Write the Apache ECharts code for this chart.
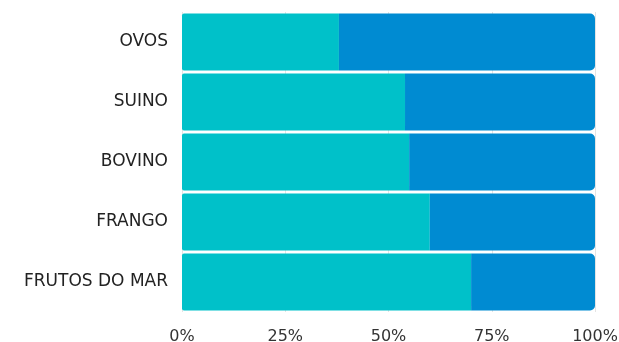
<!DOCTYPE html>
<html><head><meta charset="utf-8">
<script src="https://cdn.jsdelivr.net/npm/echarts@6/dist/echarts.min.js"></script>
<style>html,body{margin:0;padding:0;background:#fff}#c{width:619px;height:342px}</style>
</head><body><div id="c"></div>
<script>
const categories = ['FRUTOS DO MAR','FRANGO','BOVINO','SUINO','OVOS'];
const firstShare = [70, 60, 55, 54, 38];
const secondShare = [30, 40, 45, 46, 62];
const tickLabels = ['0%','25%','50%','75%','100%'];

const chart = echarts.init(document.getElementById('c'));
chart.setOption({
  animation:false,
  grid:{left:182,right:24,top:12,bottom:30,containLabel:false,outerBoundsMode:'none'},
  xAxis:{type:'value',min:0,max:100,interval:25,
    axisLine:{show:false},axisTick:{show:false},
    splitLine:{show:true,lineStyle:{color:'#e4e4e4',width:1}},
    axisLabel:{formatter:v=>tickLabels[v/25],color:'#333',fontSize:16,fontFamily:'DejaVu Sans, sans-serif',margin:17}},
  yAxis:{type:'category',data:categories,
    axisLine:{show:false},axisTick:{show:false},
    axisLabel:{color:'#222',fontSize:17,fontFamily:'DejaVu Sans, sans-serif',margin:14}},
  series:[
    {type:'bar',stack:'a',data:firstShare,barCategoryGap:'5%',itemStyle:{color:'#00C1C9',borderRadius:[2,0,0,2]}},
    {type:'bar',stack:'a',data:secondShare,barCategoryGap:'5%',itemStyle:{color:'#008BD2',borderRadius:[0,5,5,0]}}
  ]
});
</script></body></html>
